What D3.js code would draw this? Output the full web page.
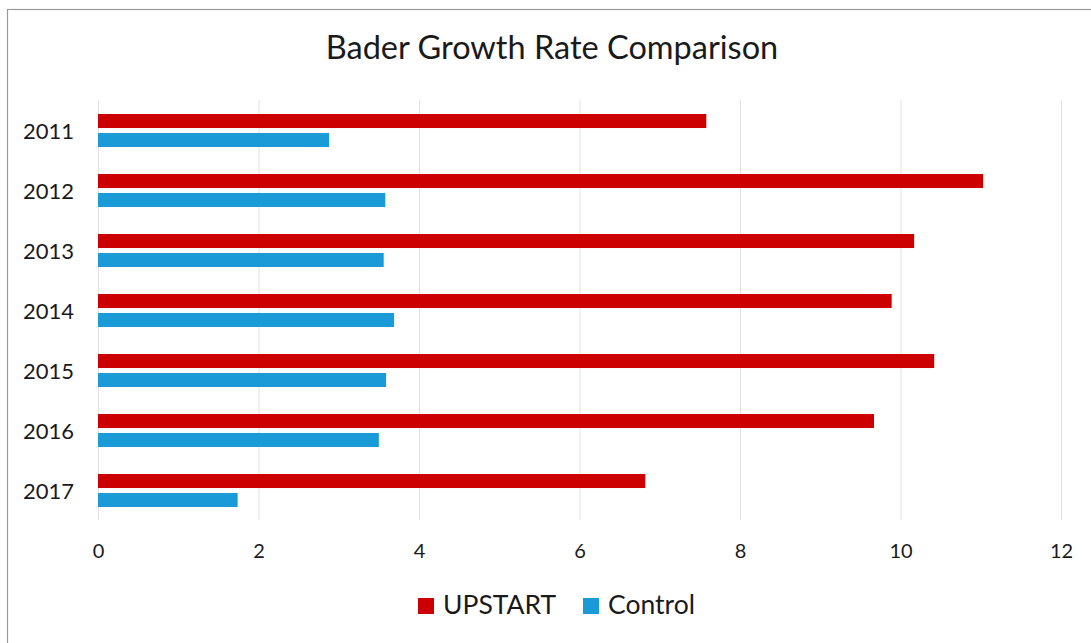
<!DOCTYPE html>
<html>
<head>
<meta charset="utf-8">
<script src="https://d3js.org/d3.v7.min.js"></script>
<style>
  body { margin: 0; background: #ffffff; }
  text { font-family: Lato, "Open Sans", sans-serif; fill: #1a1a1a; }
</style>
</head>
<body>
<div id="chart"></div>
<script>
// chart data
var years = ["2011", "2012", "2013", "2014", "2015", "2016", "2017"];
var series = ["UPSTART", "Control"];
var upstart = [7.58, 11.03, 10.17, 9.89, 10.42, 9.67, 6.82];
var control = [2.88, 3.58, 3.56, 3.69, 3.59, 3.50, 1.74];
var xTicks = [0, 2, 4, 6, 8, 10, 12];
var colors = ["#cc0000", "#1b9ad8"];

//Define SVG area
var svgWidth = 1091;
var svgHeight = 643;

var svg = d3.select("#chart")
    .append("svg")
    .attr("width", svgWidth)
    .attr("height", svgHeight);

// frame around the chart (runs off the right / bottom edge)
svg.append("rect")
    .attr("x", 7.5)
    .attr("y", 9.5)
    .attr("width", 1100)
    .attr("height", 650)
    .attr("fill", "#ffffff")
    .attr("stroke", "#9a9a9a")
    .attr("stroke-width", 1.2);

// rows: one per year
var rows = years.map(function (y, i) {
    return { year: y, values: [upstart[i], control[i]] };
});

var xScale = d3.scaleLinear()
    .domain([0, 12])
    .range([98, 1061]);

var yScale = d3.scaleBand()
    .domain(years)
    .range([100.5, 520.5])
    .paddingInner(0.45)
    .paddingOuter(0.225);

var subScale = d3.scaleBand()
    .domain(series)
    .range([0, yScale.bandwidth()])
    .paddingInner(0.26);

// gridlines
var xAxis = d3.axisBottom(xScale)
    .tickValues(xTicks)
    .tickSize(-(520 - 100))
    .tickFormat(function (d) { return d; });

var axisG = svg.append("g")
    .attr("transform", "translate(0, 520)")
    .call(xAxis);

axisG.select(".domain").remove();
axisG.selectAll(".tick line")
    .attr("stroke", "#e2e2e2")
    .attr("stroke-width", 1);
axisG.selectAll(".tick text")
    .attr("y", 38)
    .attr("dy", 0)
    .attr("font-size", "20px")
    .style("font-family", "Lato, sans-serif")
    .attr("fill", "#1a1a1a");

// bars
var groups = svg.selectAll(".year")
    .data(rows)
    .enter()
    .append("g")
    .attr("class", "year")
    .attr("transform", function (d) {
        return `translate(0, ${yScale(d.year)})`;
    });

groups.selectAll("rect")
    .data(function (d) {
        return d.values.map(function (v, i) { return { key: series[i], value: v, i: i }; });
    })
    .enter()
    .append("rect")
    .attr("x", xScale(0))
    .attr("y", function (d) { return subScale(d.key); })
    .attr("width", function (d) { return xScale(d.value) - xScale(0); })
    .attr("height", subScale.bandwidth())
    .attr("fill", function (d) { return colors[d.i]; });

// year labels
svg.selectAll(".yearLabel")
    .data(years)
    .enter()
    .append("text")
    .attr("class", "yearLabel")
    .attr("x", 74)
    .attr("y", function (d) { return yScale(d) + yScale.bandwidth() / 2 + 8; })
    .attr("text-anchor", "end")
    .attr("font-size", "22px")
    .text(function (d) { return d; });

// title
svg.append("text")
    .attr("x", 552)
    .attr("y", 59)
    .attr("text-anchor", "middle")
    .attr("font-size", "32.5px")
    .text("Bader Growth Rate Comparison");

// legend
var legendX = [418, 583];
var legend = svg.selectAll(".legend")
    .data(series)
    .enter()
    .append("g")
    .attr("class", "legend")
    .attr("transform", function (d, i) { return `translate(${legendX[i]}, 598)`; });

legend.append("rect")
    .attr("width", 16)
    .attr("height", 16)
    .attr("fill", function (d, i) { return colors[i]; });

legend.append("text")
    .attr("x", 25)
    .attr("y", 16)
    .attr("font-size", "26.5px")
    .text(function (d) { return d; });
</script>
</body>
</html>
